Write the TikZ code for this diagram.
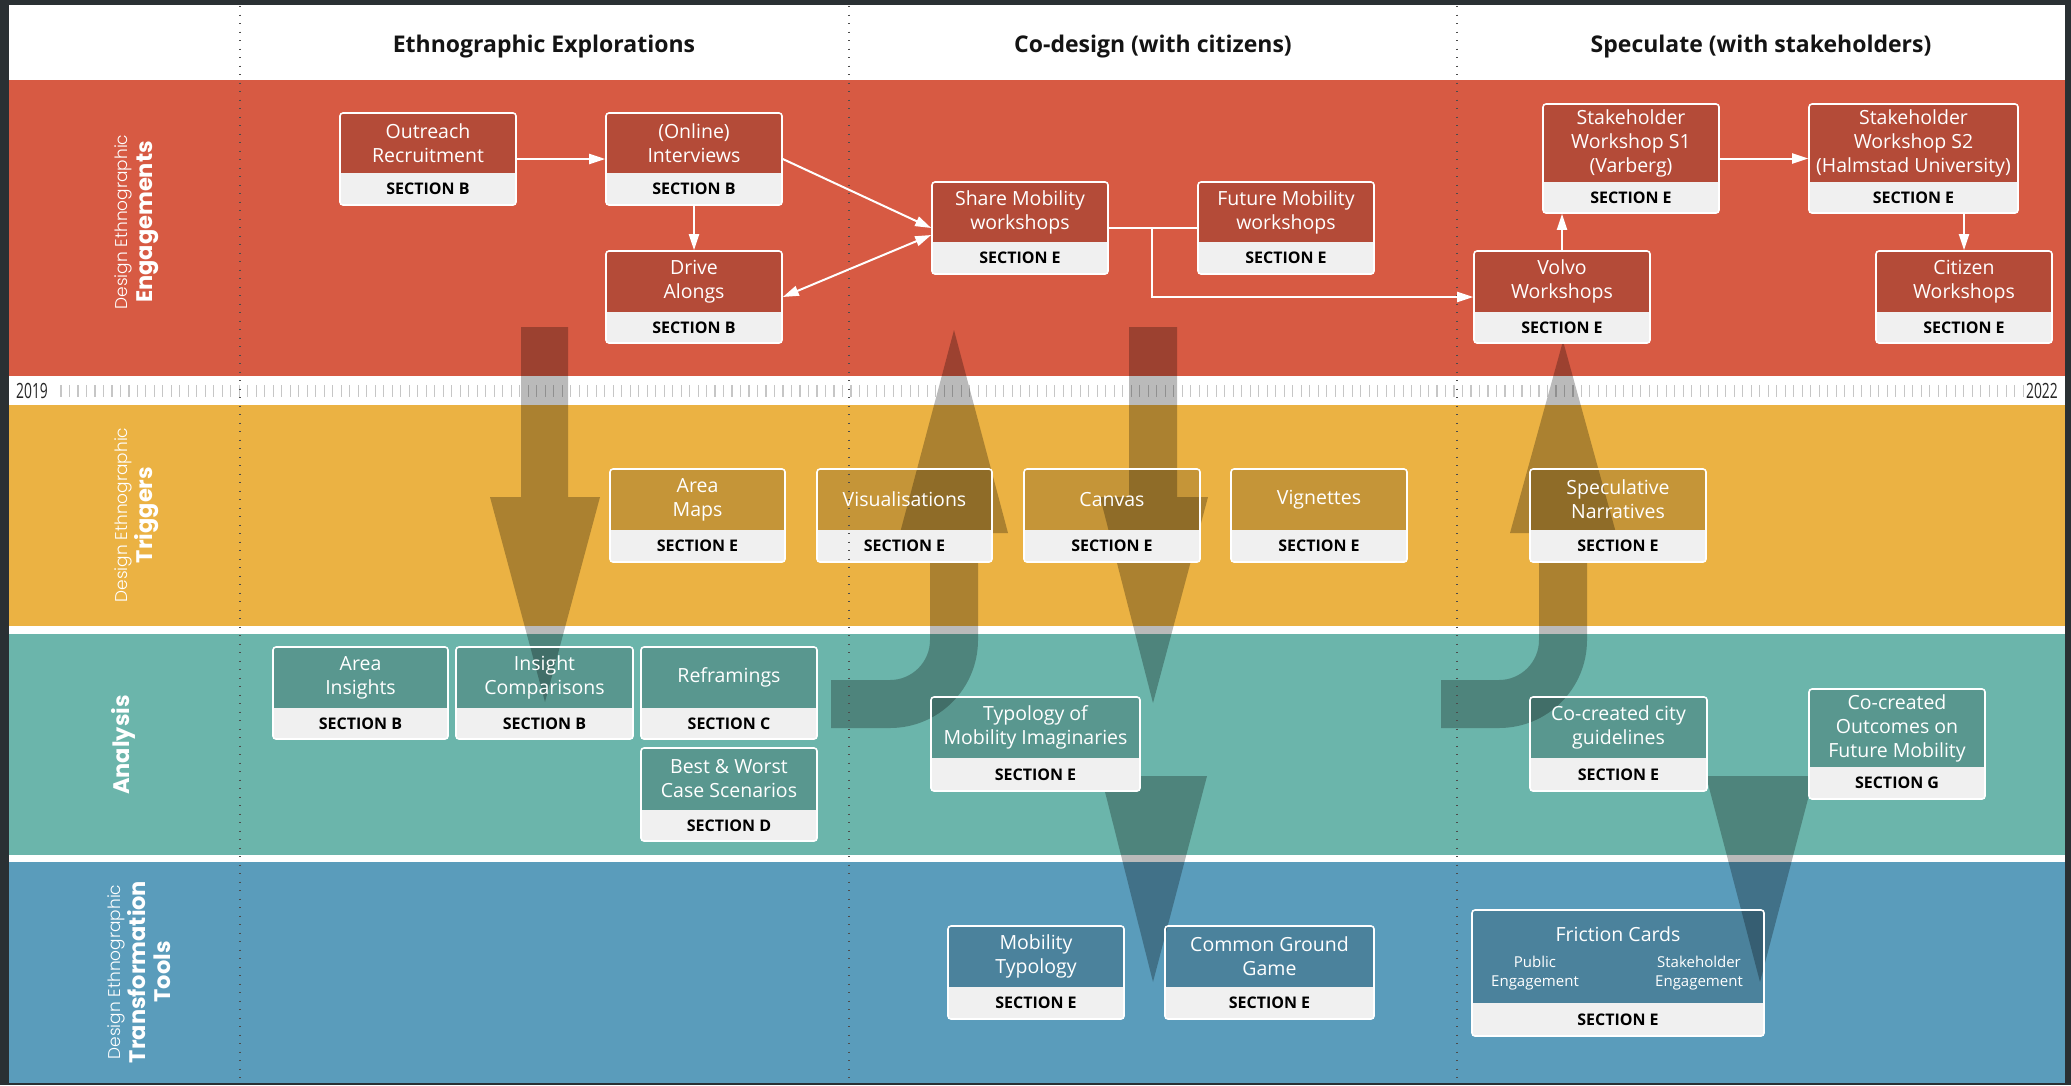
\documentclass[tikz,border=0pt]{standalone}
\usepackage{fontspec}
\setmainfont{Open Sans}
\newfontfamily\boxfont{Open Sans}
\newfontfamily\rowfont{Poppins}
\IfFontExistsTF{Poppins Light}
  {\newfontfamily\rowlightfont{Poppins Light}}
  {\newfontfamily\rowlightfont{Poppins}}
\usepackage{graphicx}
\usetikzlibrary{arrows.meta}

\definecolor{framedark}{HTML}{2A3033}
\definecolor{bandred}{HTML}{D75A43}
\definecolor{bandyellow}{HTML}{EBB243}
\definecolor{bandteal}{HTML}{6BB5AB}
\definecolor{bandblue}{HTML}{5A9CBB}
\definecolor{seclight}{HTML}{F0F0F0}
\definecolor{tickgray}{HTML}{C6C6C6}

\tikzset{
  boxtop/.style={fill=black, fill opacity=0.16, text opacity=1, text=white,
    align=center, inner sep=0pt, font=\boxfont\fontsize{19.5}{24}\selectfont},
  boxsec/.style={fill=seclight, text=black, inner sep=0pt,
    font=\fontsize{16}{18}\selectfont\bfseries},
  boxframe/.style={draw=white, line width=1.6pt, rounded corners=3pt, inner sep=0pt},
  link/.style={draw=white, line width=2pt},
  linkarrow/.style={link, -{Triangle[length=16pt,width=10pt]}},
  linkboth/.style={link, {Triangle[length=16pt,width=10pt]}-{Triangle[length=16pt,width=10pt]}},
  flow/.style={fill=black, fill opacity=0.27},
  dotline/.style={draw=black!70, line width=1.3pt, dash pattern=on 1.3pt off 7.2pt},
  rowlabel/.style={rotate=90, align=center, text=white, inner sep=0pt,
    font=\rowlightfont\fontsize{17}{25}\selectfont},
  rowmain/.style={font=\rowfont\fontsize{22.5}{25}\selectfont\bfseries},
  coltitle/.style={font=\fontsize{23}{28}\selectfont\bfseries, text=black!92, inner sep=0pt},
  smalltxt/.style={text=white, align=center, inner sep=0pt, font=\boxfont\fontsize{15}{19}\selectfont},
}

\newcommand\rowmainstyle{\rowfont\fontsize{22.5}{25}\selectfont\bfseries}

% stage box: name, x1, y1, x2, divider y, y2, label, section
\newcommand\stagebox[8]{%
  \node[boxtop, minimum width={(#4)-(#2)}, minimum height={(#5)-(#3)}]
    (#1-top) at ({((#2)+(#4))/2},{((#3)+(#5))/2}) {#7};
  \node[boxsec, minimum width={(#4)-(#2)}, minimum height={(#6)-(#5)}]
    (#1-sec) at ({((#2)+(#4))/2},{((#5)+(#6))/2}) {#8};
  \node[boxframe, minimum width={(#4)-(#2)}, minimum height={(#6)-(#3)}]
    (#1) at ({((#2)+(#4))/2},{((#3)+(#6))/2}) {};
}

\begin{document}
\begin{tikzpicture}[x=1pt,y=-1pt]
\useasboundingbox (0,0) rectangle (2071,1085);

% frame and bands
\fill[framedark] (0,0) rectangle (2071,1085);
\fill[white] (9.4,5) rectangle (2065,1083);
\fill[bandred] (9.4,80) rectangle (2065,376);
\fill[bandyellow] (9.4,405) rectangle (2065,626);
\fill[bandteal] (9.4,634) rectangle (2065,855);
\fill[bandblue] (9.4,862) rectangle (2065,1083);

% timeline
\foreach \i in {0,...,231}
  \draw[tickgray, line width=1.1pt] ({61+\i*8.494},385) -- ++(0,12);
\node[anchor=west, inner sep=0pt, text=black!85, font=\fontsize{21}{24}\selectfont]
  (yearstart) at (16,391) {\scalebox{0.66}[1]{2019}};
\node[anchor=east, inner sep=0pt, text=black!85, font=\fontsize{21}{24}\selectfont]
  (yearend) at (2058,391) {\scalebox{0.66}[1]{2022}};

% column titles
\node[coltitle] (col-ethno) at (544,47) {Ethnographic Explorations};
\node[coltitle] (col-codesign) at (1153,47) {Co-design (with citizens)};
\node[coltitle] (col-spec) at (1761,47) {Speculate (with stakeholders)};

% row labels
\node[rowlabel] (row-eng) at (137,222)
  {Design Ethnographic\\{\rowmainstyle Engagements}};
\node[rowlabel] (row-trig) at (137,515)
  {Design Ethnographic\\{\rowmainstyle Triggers}};
\node[rowlabel, rowmain] (row-ana) at (123,745) {Analysis};
\node[rowlabel] (row-tools) at (139,972)
  {Design Ethnographic\\{\rowmainstyle Transformation}\\{\rowmainstyle Tools}};

% large flow arrows between the layers
\fill[flow] (521,327) -- (568,327) -- (568,497) -- (600,497) -- (545,702)
  -- (490,497) -- (521,497) -- cycle;
\fill[flow] (1129,327) -- (1177,327) -- (1177,497) -- (1208,497) -- (1153,703)
  -- (1100,497) -- (1129,497) -- cycle;
\fill[flow] (1101,776) -- (1207,776) -- (1153,982) -- cycle;
\fill[flow] (1706,776) -- (1814,776) -- (1760,982) -- cycle;
\fill[flow] (954,330) -- (1008,533) -- (978,533) -- (978,640)
  .. controls (978,688.6) and (938.6,728) .. (890,728) -- (831,728) -- (831,680)
  -- (890,680) .. controls (912.1,680) and (930,662.1) .. (930,640)
  -- (930,533) -- (900,533) -- cycle;
\fill[flow] (1563,341) -- (1616,533) -- (1587,533) -- (1587,640)
  .. controls (1587,688.6) and (1547.6,728) .. (1499,728) -- (1441,728) -- (1441,680)
  -- (1499,680) .. controls (1521.1,680) and (1539,662.1) .. (1539,640)
  -- (1539,533) -- (1510,533) -- cycle;

% engagements
\stagebox{outreach}{340}{113}{516}{173}{205}{Outreach\\Recruitment}{SECTION B}
\stagebox{interviews}{606}{113}{782}{173}{205}{(Online)\\Interviews}{SECTION B}
\stagebox{drive}{606}{251}{782}{312}{343}{Drive\\Alongs}{SECTION B}
\stagebox{share}{932}{182}{1108}{242}{274}{Share Mobility\\workshops}{SECTION E}
\stagebox{future}{1198}{182}{1374}{242}{274}{Future Mobility\\workshops}{SECTION E}
\stagebox{sone}{1543}{104}{1719}{182}{213}{Stakeholder\\Workshop S1\\(Varberg)}{SECTION E}
\stagebox{stwo}{1809}{104}{2018}{182}{213}{Stakeholder\\Workshop S2\\(Halmstad University)}{SECTION E}
\stagebox{volvo}{1474}{251}{1650}{312}{343}{Volvo\\Workshops}{SECTION E}
\stagebox{citizen}{1876}{251}{2052}{312}{343}{Citizen\\Workshops}{SECTION E}

% triggers
\stagebox{areamaps}{610}{469}{785}{530}{562}{Area\\Maps}{SECTION E}
\stagebox{visual}{817}{469}{992}{530}{562}{Visualisations}{SECTION E}
\stagebox{canvas}{1024}{469}{1200}{530}{562}{Canvas}{SECTION E}
\stagebox{vignettes}{1231}{469}{1407}{530}{562}{Vignettes}{SECTION E}
\stagebox{specnarr}{1530}{469}{1706}{530}{562}{Speculative\\Narratives}{SECTION E}

% analysis
\stagebox{areains}{273}{647}{448}{708}{739}{Area\\Insights}{SECTION B}
\stagebox{insightcomp}{456}{647}{633}{708}{739}{Insight\\Comparisons}{SECTION B}
\stagebox{reframe}{641}{647}{817}{708}{739}{Reframings}{SECTION C}
\stagebox{bestworst}{641}{748}{817}{810}{841}{Best \& Worst\\Case Scenarios}{SECTION D}
\stagebox{typology}{931}{697}{1140}{758}{791}{Typology of\\Mobility Imaginaries}{SECTION E}
\stagebox{cityguide}{1530}{697}{1707}{758}{791}{Co-created city\\guidelines}{SECTION E}
\stagebox{outcomes}{1809}{689}{1985}{767}{799}{Co-created\\Outcomes on\\Future Mobility}{SECTION G}

% transformation tools
\stagebox{mobtypo}{948}{926}{1124}{987}{1019}{Mobility\\Typology}{SECTION E}
\stagebox{cgg}{1165}{926}{1374}{987}{1019}{Common Ground\\Game}{SECTION E}
\stagebox{friction}{1472}{910}{1764}{1003}{1036}{}{SECTION E}
\node[boxtop, fill=none] (friction-title) at (1618,934) {Friction Cards};
\node[smalltxt] (friction-public) at (1535,973) {Public\\Engagement};
\node[smalltxt] (friction-stake) at (1699,973) {Stakeholder\\Engagement};

% column separators
\draw[dotline] (240,6) -- (240,1083);
\draw[dotline] (849,6) -- (849,1083);
\draw[dotline] (1457,6) -- (1457,1083);

% connectors between engagements
\draw[linkarrow] (outreach.east) -- (interviews.west);
\draw[linkarrow] (interviews.south) -- (drive.north);
\draw[linkarrow] (interviews.east) -- (share.west);
\draw[linkboth] ([yshift=-7pt]share.west) -- (drive.east);
\draw[link] (share.east) -- (future.west);
\coordinate (branch) at (1152,228);
\draw[linkarrow] (branch) |- (volvo.west);
\draw[linkarrow] (volvo.north) -- (volvo.north |- sone.south);
\draw[linkarrow] (sone.east) -- (stwo.west);
\draw[linkarrow] (citizen.north |- stwo.south) -- (citizen.north);
\end{tikzpicture}
\end{document}
